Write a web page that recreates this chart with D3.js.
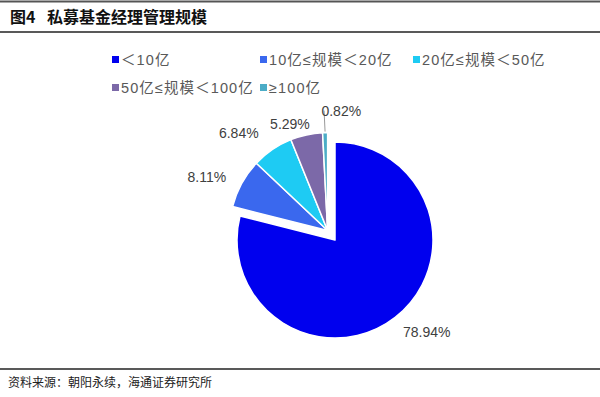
<!DOCTYPE html>
<html>
<head>
<meta charset="utf-8">
<script src="https://cdn.jsdelivr.net/npm/d3@7"></script>
<style>
  body { margin: 0; background: #fff; }
  svg { display: block; }
</style>
</head>
<body>
<svg id="chart"></svg>
<script>
var width = 600;
var height = 397;

// data
var categories = ["＜10亿", "10亿≤规模＜20亿", "20亿≤规模＜50亿", "50亿≤规模＜100亿", "≥100亿"];
var shares = [78.94, 8.11, 6.84, 5.29, 0.82];
var colors = ["#0000EE", "#3A68EE", "#1ECBF3", "#7C69A8", "#4BACC6"];

var cjk = "'Noto Sans CJK SC', sans-serif";
var latin = "'Liberation Sans', Arial, 'Noto Sans CJK SC', sans-serif";

var svg = d3.select("#chart").attr("width", width).attr("height", height);

// header / footer rules
svg.append("line").attr("x1", 0).attr("x2", width).attr("y1", 1.5).attr("y2", 1.5)
  .attr("stroke", "#555").attr("stroke-width", 2);
svg.append("line").attr("x1", 0).attr("x2", width).attr("y1", 32).attr("y2", 32)
  .attr("stroke", "#222").attr("stroke-width", 1.6);
svg.append("line").attr("x1", 0).attr("x2", width).attr("y1", 369).attr("y2", 369)
  .attr("stroke", "#222").attr("stroke-width", 1.6);

svg.append("text").attr("x", 10).attr("y", 23)
  .attr("font-family", cjk).attr("font-weight", "bold").attr("font-size", 16)
  .attr("fill", "#111").text("图4");
svg.append("text").attr("x", 47).attr("y", 23)
  .attr("font-family", cjk).attr("font-weight", "bold").attr("font-size", 16)
  .attr("textLength", 160).attr("lengthAdjust", "spacing")
  .attr("fill", "#111").text("私募基金经理管理规模");

svg.append("text").attr("x", 8).attr("y", 387)
  .attr("font-family", cjk).attr("font-size", 12).attr("fill", "#222")
  .text("资料来源：朝阳永续，海通证券研究所");

// legend
var legendCols = [112, 260, 413];
var legendRows = [60, 88];
var legend = svg.append("g")
  .selectAll("g")
  .data(categories)
  .enter()
  .append("g")
  .attr("transform", (d, i) => `translate(${legendCols[i % 3]}, ${legendRows[Math.floor(i / 3)]})`);

legend.append("rect")
  .attr("x", 0).attr("y", -4).attr("width", 7).attr("height", 7)
  .attr("fill", (d, i) => colors[i]);
legend.append("text")
  .attr("x", 9).attr("y", 5)
  .attr("font-family", latin).attr("font-size", 14.5).attr("fill", "#595959")
  .attr("letter-spacing", 1.1)
  .text((d) => d);

// pie
var cx = 335, cy = 240, radius = 98;
var explode = 12;

var pie = d3.pie().sort(null).value((d) => d);
var arcs = pie(shares);
var arc = d3.arc().innerRadius(0).outerRadius(radius);

// the small slices are pulled out together along their shared middle angle
var groupMid = (arcs[1].startAngle + arcs[arcs.length - 1].endAngle) / 2;
var offsets = arcs.map((a, i) => i === 0 ? [0, 0]
  : [Math.sin(groupMid) * explode, -Math.cos(groupMid) * explode]);

var pieG = svg.append("g").attr("transform", `translate(${cx}, ${cy})`);

pieG.selectAll("path")
  .data(arcs)
  .enter()
  .append("path")
  .attr("transform", (d, i) => `translate(${offsets[i][0]}, ${offsets[i][1]})`)
  .attr("d", arc)
  .attr("fill", (d, i) => colors[i])
  .attr("stroke", "#fff")
  .attr("stroke-width", 1.5)
  .attr("stroke-linejoin", "round");

// label placement (radius from slice tip, angle nudge in degrees)
var labelR = [130, 132, 132, 113, 120];
var labelNudge = [-7, -5, -8, -7, 8];

function labelPos(d, i) {
  var a = (d.startAngle + d.endAngle) / 2 + labelNudge[i] * Math.PI / 180;
  return [offsets[i][0] + Math.sin(a) * labelR[i], offsets[i][1] - Math.cos(a) * labelR[i]];
}

// leader line for the tiny slice
var last = arcs[arcs.length - 1];
var lastMid = (last.startAngle + last.endAngle) / 2;
var lo = offsets[arcs.length - 1];
pieG.append("line")
  .attr("x1", lo[0] + Math.sin(lastMid) * (radius + 1))
  .attr("y1", lo[1] - Math.cos(lastMid) * (radius + 1))
  .attr("x2", lo[0] + Math.sin(lastMid) * (radius + 1) - 1)
  .attr("y2", lo[1] - Math.cos(lastMid) * (radius + 1) - 21)
  .attr("stroke", "#999").attr("stroke-width", 1);

pieG.selectAll(".lbl")
  .data(arcs)
  .enter()
  .append("text")
  .attr("class", "lbl")
  .attr("x", (d, i) => labelPos(d, i)[0])
  .attr("y", (d, i) => labelPos(d, i)[1] + 5)
  .attr("text-anchor", "middle")
  .attr("font-family", latin).attr("font-size", 14).attr("fill", "#404040")
  .text((d) => d.value.toFixed(2) + "%");
</script>
</body>
</html>
